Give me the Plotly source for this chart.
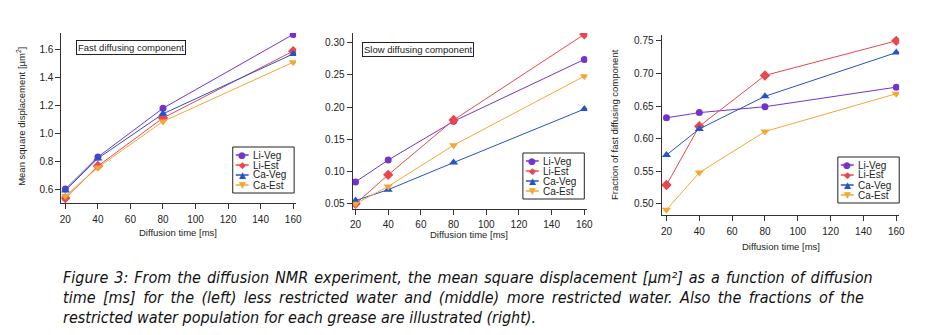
import plotly.graph_objects as go

W, H = 927, 335

times = [20, 40, 80, 160]
series_names = ["Li-Veg", "Li-Est", "Ca-Veg", "Ca-Est"]

# Left: fast diffusing component MSD
fast_li_veg = [0.60, 0.83, 1.18, 1.71]
fast_li_est = [0.535, 0.765, 1.11, 1.59]
fast_ca_veg = [0.59, 0.82, 1.14, 1.57]
fast_ca_est = [0.55, 0.755, 1.085, 1.51]

# Middle: slow diffusing component MSD
slow_li_veg = [0.084, 0.118, 0.178, 0.274]
slow_li_est = [0.050, 0.095, 0.180, 0.313]
slow_ca_veg = [0.055, 0.072, 0.114, 0.197]
slow_ca_est = [0.050, 0.077, 0.141, 0.248]

# Right: fraction of fast diffusing component
frac_li_veg = [0.632, 0.640, 0.649, 0.679]
frac_li_est = [0.529, 0.619, 0.697, 0.750]
frac_ca_veg = [0.575, 0.615, 0.665, 0.732]
frac_ca_est = [0.491, 0.548, 0.611, 0.669]

x_ticks = [20, 40, 60, 80, 100, 120, 140, 160]

colors = ["#7433cf", "#e8474f", "#2354cc", "#f4a733"]
symbols = ["circle", "diamond", "triangle-up", "triangle-down"]
glyphs = ["●", "◆", "▲", "▼"]
sizes = [7, 8, 8, 8]

panels = [
    ([fast_li_veg, fast_li_est, fast_ca_veg, fast_ca_est], "x", "y"),
    ([slow_li_veg, slow_li_est, slow_ca_veg, slow_ca_est], "x2", "y2"),
    ([frac_li_veg, frac_li_est, frac_ca_veg, frac_ca_est], "x3", "y3"),
]

fig = go.Figure()
for data, xa, ya in panels:
    for i, vals in enumerate(data):
        fig.add_trace(go.Scatter(
            x=times, y=vals, name=series_names[i], mode="lines+markers",
            xaxis=xa, yaxis=ya, showlegend=False,
            line=dict(color=colors[i], width=1),
            marker=dict(color=colors[i], symbol=symbols[i], size=sizes[i]),
        ))

def px(x):
    return x / W

def py(y):
    return 1 - y / H

tickfont = dict(family="Liberation Sans, Arial", size=10, color="#222")
axis_common = dict(showgrid=False, zeroline=False, showline=True, linecolor="#333",
                   linewidth=1, ticks="outside", ticklen=5, tickcolor="#333",
                   tickfont=tickfont)

fig.update_layout(
    width=W, height=H, margin=dict(l=0, r=0, t=0, b=0),
    paper_bgcolor="white", plot_bgcolor="white", showlegend=False,
    font=dict(family="Liberation Sans, Arial", size=10, color="#222"),
    xaxis=dict(domain=[px(59), px(296)], range=[17.6, 161.8], tickvals=x_ticks,
               anchor="y", ticklabelstandoff=2, **axis_common),
    yaxis=dict(domain=[py(203), py(33)], range=[0.5, 1.72],
               tickvals=[0.6, 0.8, 1.0, 1.2, 1.4, 1.6], tickformat=".1f",
               anchor="x", **axis_common),
    xaxis2=dict(domain=[px(353), px(590)], range=[18.2, 161.8], tickvals=x_ticks,
                anchor="y2", ticklabelstandoff=1, **axis_common),
    yaxis2=dict(domain=[py(209), py(33)], range=[0.042, 0.315],
                tickvals=[0.05, 0.10, 0.15, 0.20, 0.25, 0.30], tickformat=".2f",
                anchor="x2", **axis_common),
    xaxis3=dict(domain=[px(665), px(905)], range=[17.0, 161.8], tickvals=x_ticks,
                anchor="y3", ticklabelstandoff=2, **axis_common),
    yaxis3=dict(domain=[py(215), py(35)], range=[0.483, 0.759],
                tickvals=[0.50, 0.55, 0.60, 0.65, 0.70, 0.75], tickformat=".2f",
                anchor="x3", **axis_common),
)

ann = []
shapes = []

# Hand-built compact legends (one per panel)
leg_font = dict(family="Liberation Sans, Arial", size=10, color="#222")
for (lx, ty) in [(232, 147), (525, 153), (843, 157)]:
    shapes.append(dict(type="rect", xref="paper", yref="paper",
                       x0=px(lx), x1=px(lx + 62), y0=py(ty + 46), y1=py(ty),
                       line=dict(color="#222", width=1), fillcolor="white", layer="above"))
    for i, name in enumerate(series_names):
        ry = ty + 8 + 10 * i
        shapes.append(dict(type="line", xref="paper", yref="paper",
                           x0=px(lx + 3), x1=px(lx + 16), y0=py(ry), y1=py(ry),
                           line=dict(color=colors[i], width=1.5), layer="above"))
        ann.append(dict(text=glyphs[i], x=px(lx + 9.5), y=py(ry), xref="paper", yref="paper",
                        xanchor="center", yanchor="middle", showarrow=False,
                        font=dict(family="DejaVu Sans", size=9, color=colors[i])))
        ann.append(dict(text=name, x=px(lx + 18), y=py(ry), xref="paper", yref="paper",
                        xanchor="left", yanchor="middle", showarrow=False, font=leg_font))

labfont = dict(family="Liberation Sans, Arial", size=9.5, color="#222")
ann.append(dict(text="Fast diffusing component", x=px(74), y=py(40), xref="paper", yref="paper",
                xanchor="left", yanchor="top", showarrow=False, font=labfont,
                bordercolor="#222", borderwidth=1, borderpad=1, bgcolor="white"))
ann.append(dict(text="Slow diffusing component", x=px(363), y=py(42), xref="paper", yref="paper",
                xanchor="left", yanchor="top", showarrow=False, font=labfont,
                bordercolor="#222", borderwidth=1, borderpad=1, bgcolor="white"))
ann.append(dict(text="Mean square displacement [µm<sup>2</sup>]", x=px(18), y=py(116),
                xref="paper", yref="paper", xanchor="center", yanchor="middle",
                textangle=-90, showarrow=False, font=labfont))
ann.append(dict(text="Fraction of fast diffusing component", x=px(618), y=py(125),
                xref="paper", yref="paper", xanchor="center", yanchor="middle",
                textangle=-90, showarrow=False, font=labfont))
for cx, cy in [(177, 232), (471, 234), (786, 247)]:
    ann.append(dict(text="Diffusion time [ms]", x=px(cx), y=py(cy), xref="paper", yref="paper",
                    xanchor="center", yanchor="middle", showarrow=False, font=labfont))

cap_font = dict(family="DejaVu Sans Condensed, DejaVu Sans", size=16, color="#111")
caption_lines = [
    ("Figure 3: From the diffusion NMR experiment, the mean square displacement [µm²] as a function of diffusion", "\u200a"),
    ("time [ms] for the (left) less restricted water and (middle) more restricted water. Also the fractions of the", "\u2009"),
    ("restricted water population for each grease are illustrated (right).", ""),
]
for i, (line, extra) in enumerate(caption_lines):
    txt = line.replace(" ", " " + extra) if extra else line
    ann.append(dict(text="<i>" + txt + "</i>", x=px(59), y=py(277 + 20 * i), xref="paper", yref="paper",
                    xanchor="left", yanchor="middle", showarrow=False, font=cap_font))

fig.update_layout(annotations=ann, shapes=shapes)
fig.write_html("out.html")
